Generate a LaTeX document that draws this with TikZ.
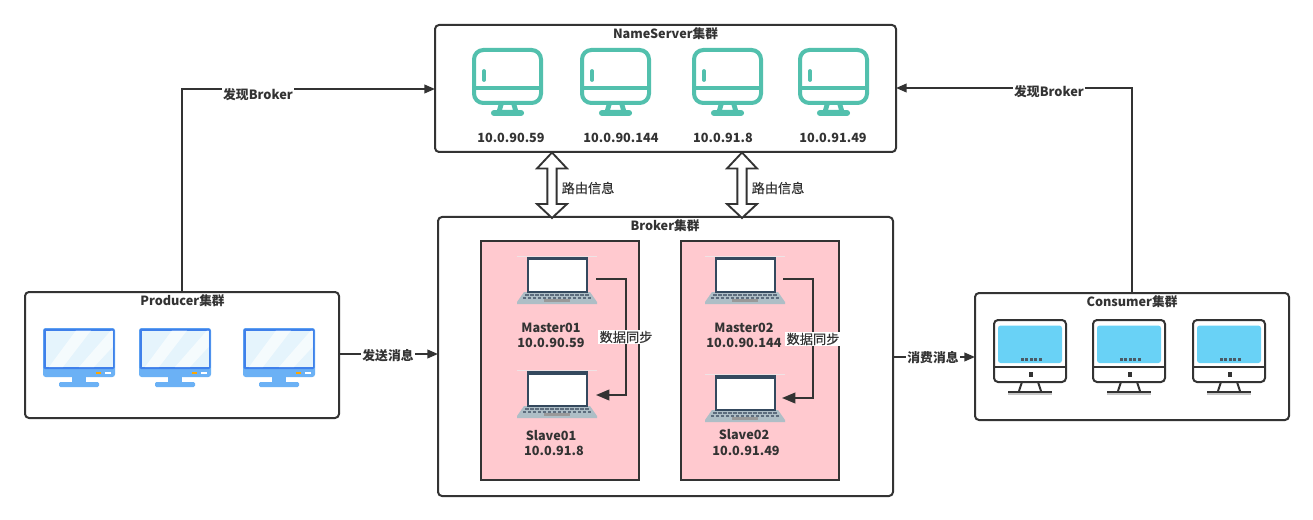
\documentclass[tikz,border=0pt]{standalone}
\usepackage{fontspec}
\setmainfont{Noto Sans CJK SC}
\newfontfamily\medfont[FakeBold=0.25]{Noto Sans CJK SC}
\usetikzlibrary{arrows.meta,calc}
\definecolor{ink}{HTML}{333333}
\definecolor{teal}{HTML}{52C0AD}
\definecolor{pinkbg}{HTML}{FFC9CF}
\definecolor{lapdark}{HTML}{34495E}
\definecolor{lapgrey}{HTML}{AEBEC6}
\definecolor{bluemid}{HTML}{6BB1F5}
\definecolor{blueedge}{HTML}{3F80EA}
\definecolor{bluescreen}{HTML}{E5F4FC}
\definecolor{cyanscreen}{HTML}{69D2F6}
\definecolor{dotgrey}{HTML}{4A5A66}
\definecolor{faintline}{HTML}{EFE3E5}
\tikzset{
  x=0.75pt,y=-0.75pt,
  box/.style={draw=ink,line width=1.5pt,rounded corners=3pt,fill=white},
  pinkbox/.style={draw=ink,line width=1.5pt,fill=pinkbg},
  title/.style={font=\bfseries\fontsize{9.5}{10}\selectfont,text=ink,inner sep=0pt,anchor=center},
  lab/.style={font=\medfont\fontsize{9.9}{10}\selectfont,text=ink,inner sep=1pt,anchor=center},
  labw/.style={lab,fill=white},
  labb/.style={font=\bfseries\fontsize{9.6}{10}\selectfont,text=ink,inner sep=1pt,anchor=center,fill=white},
  conn/.style={draw=ink,line width=1.4pt,-{Triangle[length=8pt,width=6.5pt]}},
  syncconn/.style={draw=ink,line width=1.4pt,-{Triangle[length=10pt,width=8pt]}},
  hollow/.style={draw=ink,line width=1.4pt,fill=white,line join=miter,
    to path={-- ($(\tikztostart)+(15,16)$) -- ($(\tikztostart)+(4.6,16)$)
      -- ($(\tikztotarget)+(4.6,-14)$) -- ($(\tikztotarget)+(15,-14)$)
      -- (\tikztotarget) -- ($(\tikztotarget)+(-15,-14)$) -- ($(\tikztotarget)+(-4.6,-14)$)
      -- ($(\tikztostart)+(-4.6,16)$) -- ($(\tikztostart)+(-15,16)$) -- cycle}},
  tealmon/.pic={
    \draw[teal,line width=3pt,rounded corners=7pt] (2,2) rectangle (69,55);
    \draw[teal,line width=2.6pt] (2,40) -- (69,40);
    \draw[teal,line width=2.8pt,line cap=round] (12,23) -- (12,32);
    \fill[teal,even odd rule] (27,55) -- (44,55) -- (46,62) -- (25,62) -- cycle (31.5,57) -- (39.5,57) -- (41,62) -- (30,62) -- cycle;
    \draw[teal,line width=4.6pt,line cap=round] (22,65) -- (49,65);
  },
  bluemon/.pic={
    \fill[bluemid,rounded corners=2pt] (0,0) rectangle (72,49);
    \fill[blueedge,rounded corners=1pt] (0.5,0.5) rectangle (71.5,41);
    \fill[bluescreen] (2.5,2.5) rectangle (69.5,39);
    \fill[white,opacity=.65] (6,39) -- (33,2.5) -- (48,2.5) -- (20,39) -- cycle;
    \fill[white,opacity=.65] (36,39) -- (68,2.5) -- (69.5,2.5) -- (69.5,19) -- (51,39) -- cycle;
    \fill[orange!70!yellow] (53,44) rectangle (58,46);
    \fill[white] (62,44) rectangle (68,46);
    \fill[bluemid] (29,49) rectangle (43,55);
    \fill[bluemid,rounded corners=1pt] (16,54) rectangle (56,59);
  },
  imacmon/.pic={
    \fill[black!22] (14,72) rectangle (58,75);
    \draw[ink,line width=1.5pt,rounded corners=3pt,fill=white] (0,0) rectangle (72,62);
    \fill[cyanscreen,rounded corners=2pt] (4,5.5) rectangle (68,43);
    \draw[ink,line width=1.5pt] (0,47) -- (72,47);
    \fill[ink] (34.5,52) rectangle (39,57);
    \foreach \d in {28,32.5,37,41.5,46} {\fill[dotgrey] (\d-1.5,37.5) rectangle (\d+1.5,40.5);}
    \draw[ink,line width=1.5pt] (28,62) -- (25,71) (44,62) -- (47,71);
    \draw[ink,line width=1.5pt] (14,71.5) -- (58,71.5);
  },
  laptop/.pic={
    \draw[faintline,line width=.4pt] (0,0) -- (80,0);
    \fill[lapgrey] (7,36) -- (73,36) -- (80,46) -- (80,48) -- (0,48) -- (0,46) -- cycle;
    \fill[lapdark] (10,1) rectangle (71,37);
    \fill[white] (12,4.5) rectangle (69,34.5);
    \foreach \d in {0,1,...,12} {\fill[lapdark!80] (8+\d*5,37.5) rectangle (11.8+\d*5,39.7);}
    \foreach \d in {0,1,...,13} {\fill[lapdark!80] (5.5+\d*5,40.5) rectangle (9.3+\d*5,42.5);}
    \fill[gray!80] (27,43) rectangle (53,46);
  },
}
\begin{document}
\begin{tikzpicture}
\useasboundingbox (0,0) rectangle (1313,520);
% boxes
\node[box,minimum width=461*0.75pt,minimum height=127*0.75pt,inner sep=0pt] (ns) at (665.5,88.5) {};
\node[box,minimum width=455*0.75pt,minimum height=279*0.75pt,inner sep=0pt] (broker) at (665.5,356.5) {};
\node[box,minimum width=314*0.75pt,minimum height=126*0.75pt,inner sep=0pt] (prod) at (182,355) {};
\node[box,minimum width=314*0.75pt,minimum height=127*0.75pt,inner sep=0pt] (cons) at (1132,356.5) {};
\node[pinkbox,minimum width=158*0.75pt,minimum height=239*0.75pt,inner sep=0pt] (g1) at (560,360.5) {};
\node[pinkbox,minimum width=158*0.75pt,minimum height=239*0.75pt,inner sep=0pt] (g2) at (760,360.5) {};
% titles
\node[title] (tns) at (665.5,34) {NameServer集群};
\node[title] (tbr) at (665,226) {Broker集群};
\node[title] (tpr) at (182.5,301) {Producer集群};
\node[title] (tco) at (1132,302) {Consumer集群};
% name server
\pic at (472,48) {tealmon};
\pic at (580,48) {tealmon};
\pic at (692,48) {tealmon};
\pic at (798,48) {tealmon};
\node[title] (ip1) at (511,138) {10.0.90.59};
\node[title] (ip2) at (621,138) {10.0.90.144};
\node[title] (ip3) at (723,138) {10.0.91.8};
\node[title] (ip4) at (833,138) {10.0.91.49};
% producer, consumer
\pic at (43,328) {bluemon};
\pic at (139,328) {bluemon};
\pic at (243,328) {bluemon};
\pic at (994,320) {imacmon};
\pic at (1093,320) {imacmon};
\pic at (1193,320) {imacmon};
% laptops
\pic at (517,256) {laptop};
\pic at (517,370) {laptop};
\pic at (705,256) {laptop};
\pic at (705,374) {laptop};
\node[title] (m1) at (551,328) {Master01};
\node[title] (mi1) at (551,343) {10.0.90.59};
\node[title] (s1) at (551,436) {Slave01};
\node[title] (si1) at (554,451) {10.0.91.8};
\node[title] (m2) at (744,328) {Master02};
\node[title] (mi2) at (744,343) {10.0.90.144};
\node[title] (s2) at (744,435) {Slave02};
\node[title] (si2) at (746,451) {10.0.91.49};
% anchors
\coordinate (l1o) at (596,279);
\coordinate (l2i) at (596,395);
\coordinate (l3o) at (783,279);
\coordinate (l4i) at (782,398);
\coordinate (h1t) at (552,152.5);
\coordinate (h1b) at (552,218);
\coordinate (h2t) at (742,152.5);
\coordinate (h2b) at (742,218);
\coordinate (pt) at (182,292);
\coordinate (ct) at (1132,293);
\coordinate (nw) at (435,89);
\coordinate (ne) at (896,88);
\coordinate (pe) at (339,354);
\coordinate (bw) at (438,354);
\coordinate (be) at (893,357);
\coordinate (cw) at (975,357);
% connectors
\draw[conn] (pt) |- (nw);
\draw[conn] (ct) |- (ne);
\draw[conn] (pe) -- (bw);
\draw[conn] (be) -- (cw);
\draw[syncconn] (l1o) -- ++(30,0) |- (l2i);
\draw[syncconn] (l3o) -- ++(30,0) |- (l4i);
\path[hollow] (h1t) to (h1b);
\path[hollow] (h2t) to (h2b);
% connector labels
\node[labb] (lf1) at (258,95) {发现Broker};
\node[labb] (lf2) at (1049,92) {发现Broker};
\node[labb] (ls) at (388,356) {发送消息};
\node[labb] (lx) at (933,358) {消费消息};
\node[lab] (lr1) at (588,188) {路由信息};
\node[lab] (lr2) at (778,188) {路由信息};
\node[labw] (ld1) at (626,337) {数据同步};
\node[labw] (ld2) at (813,339) {数据同步};
\end{tikzpicture}
\end{document}
